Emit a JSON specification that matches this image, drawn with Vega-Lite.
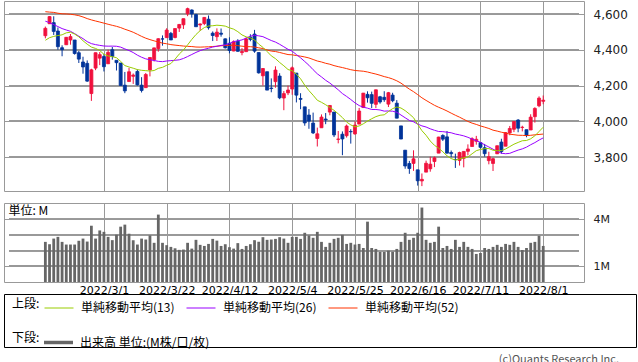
{
  "$schema": "https://vega.github.io/schema/vega-lite/v6.json",
  "padding": {"left": 3, "top": 0, "right": 0, "bottom": 0},
  "bounds": "flush",
  "spacing": 12,
  "background": "#ffffff",
  "config": {
    "font": "DejaVu Sans",
    "view": {"stroke": "#999999", "strokeWidth": 1},
    "axis": {"gridColor": "#999999", "gridOpacity": 1, "gridWidth": 1, "domain": false, "ticks": false, "labelColor": "#222222", "labelFont": "DejaVu Sans", "labelOverlap": false, "labelFlush": false},
    "legend": {"labelFont": "Noto Sans CJK JP", "titleFont": "Noto Sans CJK JP", "labelFontSize": 12, "titleFontSize": 12, "titleFontWeight": "normal", "labelColor": "#000000", "titleColor": "#000000", "padding": 0}
  },
  "data": {"values": [
    {"i":0,"o":4480.0,"h":4531.3,"l":4465.4,"c":4521.5,"v":2.56,"m13":4454.4,"m26":4561.4,"m52":4614.6},
    {"i":1,"o":4547.0,"h":4590.0,"l":4547.0,"c":4587.2,"v":2.41,"m13":4469.0,"m26":4553.3,"m52":4612.4},
    {"i":2,"o":4553.2,"h":4588.9,"l":4484.3,"c":4504.1,"v":2.77,"m13":4476.2,"m26":4542.2,"m52":4610.7},
    {"i":3,"o":4506.3,"h":4526.3,"l":4401.4,"c":4418.6,"v":2.88,"m13":4481.0,"m26":4531.3,"m52":4606.1},
    {"i":4,"o":4412.6,"h":4426.2,"l":4364.8,"c":4401.7,"v":2.56,"m13":4485.0,"m26":4520.0,"m52":4602.9},
    {"i":5,"o":4429.3,"h":4472.8,"l":4429.3,"c":4471.1,"v":2.39,"m13":4496.1,"m26":4512.1,"m52":4602.1},
    {"i":6,"o":4455.8,"h":4489.6,"l":4429.7,"c":4475.0,"v":2.39,"m13":4499.4,"m26":4504.6,"m52":4600.2},
    {"i":7,"o":4456.1,"h":4456.1,"l":4373.8,"c":4380.3,"v":2.39,"m13":4489.0,"m26":4491.8,"m52":4597.1},
    {"i":8,"o":4384.6,"h":4394.6,"l":4327.2,"c":4348.9,"v":2.63,"m13":4473.8,"m26":4477.3,"m52":4592.5},
    {"i":9,"o":4332.7,"h":4362.1,"l":4267.1,"c":4304.8,"v":2.77,"m13":4451.9,"m26":4463.6,"m52":4585.1},
    {"i":10,"o":4324.9,"h":4341.5,"l":4221.5,"c":4225.5,"v":2.58,"m13":4432.5,"m26":4446.8,"m52":4576.0},
    {"i":11,"o":4155.8,"h":4294.7,"l":4114.7,"c":4288.7,"v":3.59,"m13":4416.3,"m26":4435.7,"m52":4568.7},
    {"i":12,"o":4298.4,"h":4385.3,"l":4286.8,"c":4384.7,"v":2.77,"m13":4408.6,"m26":4430.0,"m52":4562.4},
    {"i":13,"o":4354.2,"h":4388.8,"l":4315.1,"c":4373.9,"v":3.29,"m13":4397.3,"m26":4425.9,"m52":4556.7},
    {"i":14,"o":4363.1,"h":4378.5,"l":4279.5,"c":4306.3,"v":3.2,"m13":4375.7,"m26":4422.3,"m52":4550.4},
    {"i":15,"o":4322.6,"h":4401.5,"l":4322.6,"c":4386.5,"v":2.88,"m13":4366.6,"m26":4421.4,"m52":4544.2},
    {"i":16,"o":4401.3,"h":4416.8,"l":4345.6,"c":4363.5,"v":2.67,"m13":4362.4,"m26":4421.7,"m52":4538.3},
    {"i":17,"o":4342.1,"h":4342.1,"l":4285.0,"c":4328.9,"v":3.02,"m13":4356.8,"m26":4420.9,"m52":4532.7},
    {"i":18,"o":4327.0,"h":4327.0,"l":4199.9,"c":4201.1,"v":3.53,"m13":4336.0,"m26":4416.1,"m52":4525.6},
    {"i":19,"o":4202.7,"h":4276.9,"l":4157.9,"c":4170.7,"v":3.66,"m13":4312.6,"m26":4406.0,"m52":4516.4},
    {"i":20,"o":4223.1,"h":4299.4,"l":4223.1,"c":4277.9,"v":3.08,"m13":4304.7,"m26":4396.9,"m52":4508.4},
    {"i":21,"o":4252.6,"h":4268.3,"l":4209.8,"c":4259.5,"v":2.67,"m13":4297.8,"m26":4385.8,"m52":4499.4},
    {"i":22,"o":4279.5,"h":4291.0,"l":4200.5,"c":4204.3,"v":2.39,"m13":4290.1,"m26":4371.0,"m52":4488.1},
    {"i":23,"o":4202.8,"h":4247.6,"l":4161.7,"c":4173.1,"v":2.77,"m13":4286.1,"m26":4359.3,"m52":4476.3},
    {"i":24,"o":4188.8,"h":4271.1,"l":4187.9,"c":4262.5,"v":2.71,"m13":4284.1,"m26":4350.2,"m52":4466.1},
    {"i":25,"o":4288.1,"h":4358.9,"l":4252.0,"c":4357.9,"v":2.97,"m13":4282.0,"m26":4345.3,"m52":4458.1},
    {"i":26,"o":4345.1,"h":4412.7,"l":4335.7,"c":4411.7,"v":2.5,"m13":4284.9,"m26":4341.1,"m52":4451.2},
    {"i":27,"o":4407.3,"h":4465.4,"l":4390.6,"c":4463.1,"v":4.3,"m13":4297.0,"m26":4336.3,"m52":4444.8},
    {"i":28,"o":4462.4,"h":4481.8,"l":4424.3,"c":4461.2,"v":2.5,"m13":4302.7,"m26":4334.7,"m52":4438.4},
    {"i":29,"o":4469.1,"h":4522.0,"l":4469.1,"c":4511.6,"v":2.35,"m13":4314.1,"m26":4338.2,"m52":4434.8},
    {"i":30,"o":4493.1,"h":4501.1,"l":4455.8,"c":4456.2,"v":2.24,"m13":4323.9,"m26":4340.3,"m52":4430.2},
    {"i":31,"o":4470.0,"h":4520.6,"l":4465.2,"c":4520.2,"v":2.15,"m13":4348.5,"m26":4342.2,"m52":4427.2},
    {"i":32,"o":4522.7,"h":4546.0,"l":4501.1,"c":4543.1,"v":2.05,"m13":4377.1,"m26":4344.8,"m52":4424.7},
    {"i":33,"o":4541.1,"h":4575.7,"l":4517.7,"c":4575.5,"v":2.07,"m13":4400.0,"m26":4352.4,"m52":4422.1},
    {"i":34,"o":4602.9,"h":4637.3,"l":4589.7,"c":4631.6,"v":2.5,"m13":4428.6,"m26":4363.2,"m52":4420.3},
    {"i":35,"o":4624.2,"h":4627.8,"l":4581.3,"c":4602.5,"v":2.13,"m13":4459.2,"m26":4374.7,"m52":4419.2},
    {"i":36,"o":4599.0,"h":4603.1,"l":4530.4,"c":4530.4,"v":2.69,"m13":4486.7,"m26":4386.4,"m52":4416.6},
    {"i":37,"o":4540.3,"h":4548.7,"l":4507.6,"c":4545.9,"v":2.37,"m13":4508.5,"m26":4396.3,"m52":4416.0},
    {"i":38,"o":4548.0,"h":4583.5,"l":4539.2,"c":4582.6,"v":2.3,"m13":4525.8,"m26":4403.9,"m52":4417.0},
    {"i":39,"o":4572.5,"h":4593.5,"l":4514.2,"c":4525.1,"v":2.43,"m13":4534.5,"m26":4409.7,"m52":4417.8},
    {"i":40,"o":4494.2,"h":4503.9,"l":4450.0,"c":4481.2,"v":2.75,"m13":4535.9,"m26":4416.5,"m52":4419.4},
    {"i":41,"o":4474.7,"h":4521.2,"l":4450.3,"c":4500.2,"v":2.64,"m13":4538.9,"m26":4420.8,"m52":4421.1},
    {"i":42,"o":4494.2,"h":4520.4,"l":4474.6,"c":4488.3,"v":2.3,"m13":4537.1,"m26":4425.6,"m52":4423.7},
    {"i":43,"o":4462.6,"h":4464.4,"l":4408.4,"c":4412.5,"v":2.41,"m13":4533.8,"m26":4428.8,"m52":4424.9},
    {"i":44,"o":4437.6,"h":4471.0,"l":4381.3,"c":4397.5,"v":2.22,"m13":4524.3,"m26":4436.4,"m52":4426.2},
    {"i":45,"o":4394.3,"h":4453.9,"l":4392.7,"c":4446.6,"v":2.13,"m13":4516.9,"m26":4447.0,"m52":4426.5},
    {"i":46,"o":4449.1,"h":4460.5,"l":4390.8,"c":4392.6,"v":2.48,"m13":4502.8,"m26":4451.4,"m52":4424.1},
    {"i":47,"o":4385.6,"h":4410.3,"l":4370.3,"c":4391.7,"v":2.11,"m13":4484.4,"m26":4456.5,"m52":4421.2},
    {"i":48,"o":4390.6,"h":4471.0,"l":4390.6,"c":4462.2,"v":2.3,"m13":4473.6,"m26":4466.4,"m52":4418.7},
    {"i":49,"o":4472.3,"h":4488.3,"l":4448.8,"c":4459.5,"v":2.41,"m13":4468.1,"m26":4477.4,"m52":4418.4},
    {"i":50,"o":4489.2,"h":4512.9,"l":4384.5,"c":4393.7,"v":2.67,"m13":4456.4,"m26":4482.5,"m52":4416.3},
    {"i":51,"o":4385.8,"h":4385.8,"l":4267.6,"c":4271.8,"v":2.56,"m13":4432.5,"m26":4479.2,"m52":4412.2},
    {"i":52,"o":4255.3,"h":4299.0,"l":4200.8,"c":4296.1,"v":2.86,"m13":4414.9,"m26":4474.7,"m52":4407.9},
    {"i":53,"o":4278.1,"h":4278.1,"l":4175.0,"c":4175.2,"v":2.69,"m13":4391.4,"m26":4463.7,"m52":4400.0},
    {"i":54,"o":4186.5,"h":4240.7,"l":4162.9,"c":4184.0,"v":2.71,"m13":4367.1,"m26":4453.0,"m52":4393.8},
    {"i":55,"o":4222.6,"h":4308.5,"l":4188.6,"c":4287.5,"v":2.75,"m13":4351.6,"m26":4444.4,"m52":4391.3},
    {"i":56,"o":4253.8,"h":4269.7,"l":4124.3,"c":4131.9,"v":2.86,"m13":4330.0,"m26":4431.9,"m52":4386.1},
    {"i":57,"o":4130.6,"h":4169.8,"l":4062.5,"c":4155.4,"v":2.77,"m13":4311.4,"m26":4417.9,"m52":4380.1},
    {"i":58,"o":4159.8,"h":4200.1,"l":4147.1,"c":4175.5,"v":2.5,"m13":4290.5,"m26":4403.7,"m52":4374.3},
    {"i":59,"o":4181.2,"h":4307.7,"l":4148.9,"c":4300.2,"v":2.88,"m13":4283.4,"m26":4393.1,"m52":4372.8},
    {"i":60,"o":4270.4,"h":4270.4,"l":4106.0,"c":4146.9,"v":2.88,"m13":4264.6,"m26":4374.5,"m52":4368.9},
    {"i":61,"o":4128.2,"h":4157.7,"l":4067.9,"c":4123.3,"v":2.75,"m13":4238.5,"m26":4356.1,"m52":4365.4},
    {"i":62,"o":4081.3,"h":4081.3,"l":3975.5,"c":3991.2,"v":3.14,"m13":4202.5,"m26":4335.3,"m52":4360.9},
    {"i":63,"o":4035.2,"h":4068.8,"l":3958.2,"c":4001.1,"v":2.97,"m13":4172.3,"m26":4314.4,"m52":4355.3},
    {"i":64,"o":3990.1,"h":4049.1,"l":3928.8,"c":3935.2,"v":2.82,"m13":4146.4,"m26":4289.5,"m52":4346.7},
    {"i":65,"o":3904.0,"h":3964.8,"l":3858.9,"c":3930.1,"v":3.2,"m13":4118.3,"m26":4266.6,"m52":4338.2},
    {"i":66,"o":3963.9,"h":4038.9,"l":3963.9,"c":4023.9,"v":2.56,"m13":4106.6,"m26":4249.0,"m52":4332.7},
    {"i":67,"o":4013.0,"h":4046.5,"l":3984.0,"c":4008.0,"v":2.24,"m13":4093.1,"m26":4230.1,"m52":4325.4},
    {"i":68,"o":4052.0,"h":4090.7,"l":4033.9,"c":4088.9,"v":2.5,"m13":4077.8,"m26":4214.7,"m52":4320.2},
    {"i":69,"o":4052.0,"h":4052.0,"l":3911.9,"c":3923.7,"v":2.75,"m13":4061.8,"m26":4195.9,"m52":4312.4},
    {"i":70,"o":3899.0,"h":3946.0,"l":3876.6,"c":3900.8,"v":2.82,"m13":4042.2,"m26":4176.8,"m52":4306.6},
    {"i":71,"o":3927.8,"h":3943.4,"l":3810.3,"c":3901.4,"v":3.01,"m13":4021.1,"m26":4155.8,"m52":4301.4},
    {"i":72,"o":3919.4,"h":3981.9,"l":3909.0,"c":3973.8,"v":2.43,"m13":3996.0,"m26":4139.7,"m52":4295.6},
    {"i":73,"o":3942.9,"h":3955.7,"l":3875.1,"c":3941.5,"v":2.5,"m13":3980.2,"m26":4122.4,"m52":4289.5},
    {"i":74,"o":3929.6,"h":3999.3,"l":3925.0,"c":3978.7,"v":2.39,"m13":3969.1,"m26":4103.8,"m52":4285.1},
    {"i":75,"o":3984.6,"h":4075.1,"l":3984.6,"c":4057.8,"v":2.43,"m13":3974.2,"m26":4088.4,"m52":4282.9},
    {"i":76,"o":4077.4,"h":4158.5,"l":4077.4,"c":4158.2,"v":2.17,"m13":3986.3,"m26":4079.3,"m52":4280.9},
    {"i":77,"o":4151.1,"h":4168.3,"l":4104.9,"c":4132.2,"v":3.85,"m13":4001.5,"m26":4073.9,"m52":4276.6},
    {"i":78,"o":4149.8,"h":4166.5,"l":4073.9,"c":4101.2,"v":2.17,"m13":4014.6,"m26":4066.4,"m52":4270.6},
    {"i":79,"o":4095.4,"h":4177.5,"l":4074.4,"c":4176.8,"v":2.11,"m13":4026.4,"m26":4066.5,"m52":4265.1},
    {"i":80,"o":4137.6,"h":4142.7,"l":4098.7,"c":4108.5,"v":1.92,"m13":4034.1,"m26":4063.6,"m52":4258.3},
    {"i":81,"o":4134.7,"h":4168.8,"l":4109.2,"c":4121.4,"v":1.92,"m13":4036.6,"m26":4057.2,"m52":4250.8},
    {"i":82,"o":4096.5,"h":4164.9,"l":4080.2,"c":4160.7,"v":2.0,"m13":4054.8,"m26":4058.3,"m52":4245.1},
    {"i":83,"o":4147.1,"h":4160.1,"l":4107.2,"c":4115.8,"v":1.93,"m13":4071.4,"m26":4056.8,"m52":4237.3},
    {"i":84,"o":4101.7,"h":4119.1,"l":4017.2,"c":4017.8,"v":2.11,"m13":4080.3,"m26":4050.7,"m52":4227.2},
    {"i":85,"o":3974.4,"h":3974.4,"l":3900.2,"c":3900.9,"v":2.56,"m13":4074.7,"m26":4035.4,"m52":4214.3},
    {"i":86,"o":3838.2,"h":3838.2,"l":3734.3,"c":3749.6,"v":3.14,"m13":4060.0,"m26":4020.1,"m52":4197.3},
    {"i":87,"o":3763.5,"h":3778.2,"l":3705.7,"c":3735.5,"v":2.69,"m13":4041.3,"m26":4005.2,"m52":4180.6},
    {"i":88,"o":3764.1,"h":3837.6,"l":3722.3,"c":3790.0,"v":2.82,"m13":4020.7,"m26":3997.4,"m52":4166.4},
    {"i":89,"o":3728.2,"h":3728.2,"l":3639.8,"c":3666.8,"v":3.14,"m13":3982.9,"m26":3984.6,"m52":4149.5},
    {"i":90,"o":3665.9,"h":3707.7,"l":3636.9,"c":3674.8,"v":4.75,"m13":3947.7,"m26":3974.6,"m52":4132.0},
    {"i":91,"o":3715.3,"h":3779.7,"l":3715.3,"c":3764.8,"v":2.69,"m13":3921.8,"m26":3968.2,"m52":4117.4},
    {"i":92,"o":3733.9,"h":3801.8,"l":3717.7,"c":3759.9,"v":2.5,"m13":3889.7,"m26":3958.1,"m52":4103.5},
    {"i":93,"o":3774.7,"h":3802.6,"l":3743.5,"c":3795.7,"v":2.56,"m13":3865.7,"m26":3949.9,"m52":4090.0},
    {"i":94,"o":3821.8,"h":3913.7,"l":3821.8,"c":3911.7,"v":3.53,"m13":3849.5,"m26":3943.1,"m52":4078.9},
    {"i":95,"o":3920.8,"h":3927.7,"l":3889.7,"c":3900.1,"v":2.17,"m13":3829.5,"m26":3942.2,"m52":4069.0},
    {"i":96,"o":3913.0,"h":3945.9,"l":3820.1,"c":3821.6,"v":2.3,"m13":3806.9,"m26":3939.1,"m52":4058.0},
    {"i":97,"o":3825.1,"h":3836.5,"l":3799.0,"c":3818.8,"v":2.11,"m13":3791.5,"m26":3935.9,"m52":4045.9},
    {"i":98,"o":3786.0,"h":3819.0,"l":3738.7,"c":3785.4,"v":2.69,"m13":3782.7,"m26":3928.7,"m52":4034.2},
    {"i":99,"o":3781.0,"h":3829.8,"l":3752.1,"c":3825.3,"v":2.24,"m13":3788.5,"m26":3924.2,"m52":4023.3},
    {"i":100,"o":3792.6,"h":3832.2,"l":3742.1,"c":3831.4,"v":2.56,"m13":3795.9,"m26":3918.6,"m52":4011.2},
    {"i":101,"o":3832.0,"h":3870.9,"l":3809.4,"c":3845.1,"v":2.24,"m13":3800.1,"m26":3910.4,"m52":3999.4},
    {"i":102,"o":3858.9,"h":3910.6,"l":3858.9,"c":3902.6,"v":2.11,"m13":3818.2,"m26":3900.5,"m52":3989.9},
    {"i":103,"o":3888.3,"h":3918.5,"l":3869.3,"c":3899.4,"v":1.79,"m13":3835.5,"m26":3891.6,"m52":3982.8},
    {"i":104,"o":3880.9,"h":3880.9,"l":3847.2,"c":3854.4,"v":1.85,"m13":3842.4,"m26":3882.1,"m52":3974.3},
    {"i":105,"o":3852.0,"h":3873.4,"l":3802.4,"c":3818.8,"v":2.17,"m13":3846.9,"m26":3868.3,"m52":3967.4},
    {"i":106,"o":3779.7,"h":3829.4,"l":3759.1,"c":3801.8,"v":2.11,"m13":3847.4,"m26":3856.5,"m52":3960.1},
    {"i":107,"o":3764.0,"h":3796.4,"l":3721.6,"c":3790.4,"v":2.24,"m13":3838.1,"m26":3843.8,"m52":3950.5},
    {"i":108,"o":3818.0,"h":3863.6,"l":3817.2,"c":3863.2,"v":2.37,"m13":3835.2,"m26":3832.4,"m52":3945.3},
    {"i":109,"o":3883.8,"h":3902.4,"l":3818.6,"c":3830.9,"v":2.24,"m13":3836.0,"m26":3821.4,"m52":3939.1},
    {"i":110,"o":3860.7,"h":3939.8,"l":3860.7,"c":3936.7,"v":2.43,"m13":3845.0,"m26":3818.3,"m52":3934.5},
    {"i":111,"o":3935.3,"h":3974.1,"l":3922.0,"c":3959.9,"v":2.37,"m13":3858.4,"m26":3820.6,"m52":3928.0},
    {"i":112,"o":3955.5,"h":3999.3,"l":3939.8,"c":3999.0,"v":2.56,"m13":3871.8,"m26":3830.1,"m52":3925.1},
    {"i":113,"o":4007.4,"h":4012.4,"l":3938.9,"c":3961.6,"v":2.24,"m13":3881.8,"m26":3838.8,"m52":3922.0},
    {"i":114,"o":3965.7,"h":3975.3,"l":3943.5,"c":3966.8,"v":2.04,"m13":3891.2,"m26":3845.6,"m52":3921.5},
    {"i":115,"o":3953.2,"h":3953.2,"l":3910.7,"c":3921.1,"v":2.17,"m13":3892.6,"m26":3855.4,"m52":3920.0},
    {"i":116,"o":3951.4,"h":4039.6,"l":3951.4,"c":4023.6,"v":2.5,"m13":3902.1,"m26":3868.8,"m52":3921.7},
    {"i":117,"o":4026.1,"h":4079.0,"l":3993.0,"c":4072.4,"v":2.56,"m13":3918.9,"m26":3880.7,"m52":3924.4},
    {"i":118,"o":4087.3,"h":4140.2,"l":4079.2,"c":4130.3,"v":2.95,"m13":3942.9,"m26":3894.9,"m52":3926.5},
    {"i":119,"o":4112.4,"h":4145.0,"l":4096.0,"c":4118.6,"v":2.3,"m13":3967.2,"m26":3907.3,"m52":3928.6}
  ]},
  "vconcat": [
    {
      "width": 580,
      "height": 190,
      "layer": [
        {"mark": {"type": "rule", "color": "#999999", "strokeWidth": 1}, "encoding": {"x": {"datum": -8.69, "type": "quantitative"}, "x2": {"datum": 127.55}, "y": {"datum": 3800, "type": "quantitative"}}},
        {"mark": {"type": "rule", "color": "#999999", "strokeWidth": 1}, "encoding": {"x": {"datum": -8.69, "type": "quantitative"}, "x2": {"datum": 127.55}, "y": {"datum": 4000, "type": "quantitative"}}},
        {"mark": {"type": "rule", "color": "#999999", "strokeWidth": 1}, "encoding": {"x": {"datum": -8.69, "type": "quantitative"}, "x2": {"datum": 127.55}, "y": {"datum": 4200, "type": "quantitative"}}},
        {"mark": {"type": "rule", "color": "#999999", "strokeWidth": 1}, "encoding": {"x": {"datum": -8.69, "type": "quantitative"}, "x2": {"datum": 127.55}, "y": {"datum": 4400, "type": "quantitative"}}},
        {"mark": {"type": "rule", "color": "#999999", "strokeWidth": 1}, "encoding": {"x": {"datum": -8.69, "type": "quantitative"}, "x2": {"datum": 127.55}, "y": {"datum": 4600, "type": "quantitative"}}},
        {
          "mark": {"type": "rule", "strokeWidth": 1},
          "encoding": {
            "x": {"field": "i", "type": "quantitative", "scale": {"domain": [-8.69, 127.55], "nice": false, "zero": false},
                  "axis": {"values": [14, 29, 44, 59, 74, 89, 104, 119], "labels": false, "grid": true, "gridColor": "#999999",
                           "title": "単位: M", "titleX": 4, "titleY": 14, "titleAlign": "left", "titleAnchor": "start", "titleBaseline": "top", "titleAngle": 0,
                           "titleFont": "Noto Sans CJK JP", "titleFontSize": 12, "titleFontWeight": "normal", "titleColor": "#000000"}},
            "y": {"field": "l", "type": "quantitative", "scale": {"domain": [3609.5, 4674.6], "nice": false, "zero": false},
                  "axis": {"orient": "right", "values": [3800, 4000, 4200, 4400, 4600], "format": ",d", "labelPadding": 9, "labelFontSize": 12, "grid": true, "gridColor": "#999999", "title": null}},
            "y2": {"field": "h"},
            "color": {"condition": {"test": "datum.c >= datum.o", "value": "#f0103c"}, "value": "#003399"}
          }
        },
        {
          "mark": {"type": "bar", "width": 3, "strokeWidth": 0.8},
          "encoding": {
            "x": {"field": "i", "type": "quantitative"},
            "y": {"field": "o", "type": "quantitative"},
            "y2": {"field": "c"},
            "color": {"condition": {"test": "datum.c >= datum.o", "value": "#f0103c"}, "value": "#003399"},
            "stroke": {"condition": {"test": "datum.c >= datum.o", "value": "#f0103c"}, "value": "#003399"}
          }
        },
        {
          "mark": {"type": "line", "strokeWidth": 1},
          "encoding": {
            "x": {"field": "i", "type": "quantitative"},
            "y": {"field": "m52", "type": "quantitative"},
            "stroke": {"datum": "単純移動平均(52)", "type": "nominal",
              "scale": {"domain": ["単純移動平均(13)", "単純移動平均(26)", "単純移動平均(52)"], "range": ["#99cc00", "#9900ff", "#ff3300"]},
              "legend": {"title": "上段:", "titleOrient": "left", "orient": "none", "legendX": 8, "legendY": 292, "direction": "horizontal", "symbolType": "stroke", "symbolSize": 841, "symbolStrokeWidth": 1, "labelOffset": 7, "columnPadding": 9, "titlePadding": 4}}
          }
        },
        {
          "mark": {"type": "line", "strokeWidth": 1},
          "encoding": {
            "x": {"field": "i", "type": "quantitative"},
            "y": {"field": "m26", "type": "quantitative"},
            "stroke": {"datum": "単純移動平均(26)", "type": "nominal"}
          }
        },
        {
          "mark": {"type": "line", "strokeWidth": 1},
          "encoding": {
            "x": {"field": "i", "type": "quantitative"},
            "y": {"field": "m13", "type": "quantitative"},
            "stroke": {"datum": "単純移動平均(13)", "type": "nominal"}
          }
        }
      ]
    },
    {
      "width": 580,
      "height": 79,
      "layer": [
        {"mark": {"type": "rule", "color": "#999999", "strokeWidth": 1}, "encoding": {"x": {"datum": -8.69, "type": "quantitative"}, "x2": {"datum": 127.55}, "y": {"datum": 1, "type": "quantitative"}}},
        {"mark": {"type": "rule", "color": "#999999", "strokeWidth": 1}, "encoding": {"x": {"datum": -8.69, "type": "quantitative"}, "x2": {"datum": 127.55}, "y": {"datum": 2, "type": "quantitative"}}},
        {"mark": {"type": "rule", "color": "#999999", "strokeWidth": 1}, "encoding": {"x": {"datum": -8.69, "type": "quantitative"}, "x2": {"datum": 127.55}, "y": {"datum": 3, "type": "quantitative"}}},
        {"mark": {"type": "rule", "color": "#999999", "strokeWidth": 1}, "encoding": {"x": {"datum": -8.69, "type": "quantitative"}, "x2": {"datum": 127.55}, "y": {"datum": 4, "type": "quantitative"}}},
        {
          "mark": {"type": "bar", "width": 2.8},
          "encoding": {
            "x": {"field": "i", "type": "quantitative", "scale": {"domain": [-8.69, 127.55], "nice": false, "zero": false},
                  "axis": {"values": [14, 29, 44, 59, 74, 89, 104, 119], "grid": true, "gridColor": "#999999", "title": null, "labelAngle": 0, "labelPadding": 2, "labelFontSize": 11, "labelColor": "#000000",
                           "labelExpr": "datum.value==14?'2022/3/1':datum.value==29?'2022/3/22':datum.value==44?'2022/4/12':datum.value==59?'2022/5/4':datum.value==74?'2022/5/25':datum.value==89?'2022/6/16':datum.value==104?'2022/7/11':'2022/8/1'"}},
            "y": {"field": "v", "type": "quantitative", "scale": {"domain": [0, 5.04], "nice": false, "zero": true},
                  "axis": {"orient": "right", "values": [1, 2, 3, 4], "labelExpr": "datum.value + 'M'", "labelPadding": 9, "labelFontSize": 11, "grid": true, "gridColor": "#999999", "title": null}},
            "fill": {"datum": "出来高 単位:(M株/口/枚)", "type": "nominal",
              "scale": {"range": ["#666666"]},
              "legend": {"title": "下段:", "titleOrient": "left", "orient": "none", "legendX": 8, "legendY": 327, "direction": "horizontal", "symbolType": "M-1,-0.12H1V0.12H-1Z", "symbolSize": 841, "symbolStrokeWidth": 0, "labelOffset": 7, "titlePadding": 4}}
          }
        }
      ]
    },
    {
      "width": 632,
      "height": 53,
      "view": {"stroke": "#000000", "strokeWidth": 1},
      "title": {"text": "(c)Quants Research Inc.", "orient": "bottom", "anchor": "end", "frame": "group", "baseline": "top", "offset": 7, "dx": -17, "font": "Noto Sans CJK JP", "fontSize": 11, "fontWeight": "normal", "color": "#555555"},
      "data": {"values": [{"k": 0}]},
      "mark": {"type": "text", "text": ""},
      "encoding": {}
    }
  ]
}
